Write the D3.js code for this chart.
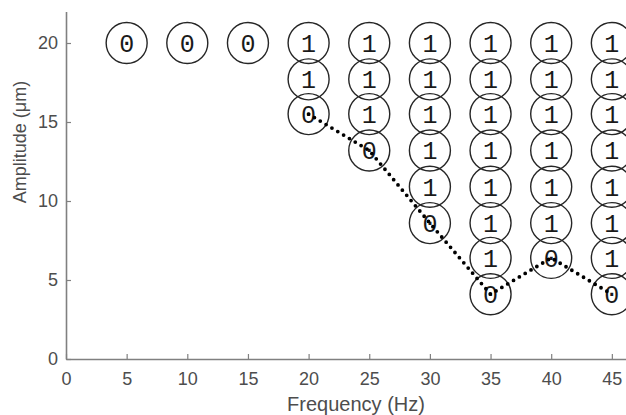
<!DOCTYPE html>
<html>
<head>
<meta charset="utf-8">
<script src="https://cdn.jsdelivr.net/npm/d3@7"></script>
<style>
  body { margin: 0; background: #fff; }
  svg { display: block; }
</style>
</head>
<body>
<div id="chart"></div>
<script>
// Test frequencies (Hz) and amplitude levels (um)
const frequencies = [5, 10, 15, 20, 25, 30, 35, 40, 45];
const amplitudeLevels = [20, 17.7, 15.5, 13.2, 10.9, 8.6, 6.4, 4.1];

// Outcome per frequency, top to bottom along amplitudeLevels (1 = response, 0 = none)
const outcomes = [
  [0],
  [0],
  [0],
  [1, 1, 0],
  [1, 1, 1, 0],
  [1, 1, 1, 1, 1, 0],
  [1, 1, 1, 1, 1, 1, 1, 0],
  [1, 1, 1, 1, 1, 1, 0],
  [1, 1, 1, 1, 1, 1, 1, 0]
];

// Threshold path (dotted)
const thresholdFreq = [20, 25, 30, 35, 40, 45];
const thresholdAmp = [15.5, 13.2, 8.6, 4.1, 6.4, 4.1];

const xTicks = [0, 5, 10, 15, 20, 25, 30, 35, 40, 45];
const yTicks = [0, 5, 10, 15, 20];

const width = 626, height = 415;

const svg = d3.select('#chart')
  .append('svg')
  .attr('width', width)
  .attr('height', height);

const x = d3.scaleLinear().domain([0, 50]).range([66, 672.5]);
const y = d3.scaleLinear().domain([0, 22]).range([359, 11.4]);

// Axes (MATLAB style, ticks pointing inward)
const axisColor = '#808080';
const labelColor = '#4d4d4d';
const sans = 'Liberation Sans, Arial, sans-serif';

const xAxis = svg.append('g')
  .attr('transform', `translate(0,${y(0)})`)
  .call(d3.axisBottom(x).tickValues(xTicks).tickSize(-5).tickPadding(13).tickSizeOuter(0));

const yAxis = svg.append('g')
  .attr('transform', `translate(${x(0)},0)`)
  .call(d3.axisLeft(y).tickValues(yTicks).tickSize(-5).tickPadding(8).tickSizeOuter(0));

[xAxis, yAxis].forEach(g => {
  g.select('.domain').attr('stroke', axisColor).attr('stroke-width', 1.6);
  g.selectAll('.tick line').attr('stroke', axisColor).attr('stroke-width', 1.2);
  g.selectAll('.tick text')
    .attr('fill', labelColor)
    .attr('font-family', sans)
    .attr('font-size', '18px');
});

// Axis labels
svg.append('text')
  .attr('x', 356)
  .attr('y', 411)
  .attr('text-anchor', 'middle')
  .attr('fill', labelColor)
  .attr('font-family', sans)
  .attr('font-size', '20px')
  .text('Frequency (Hz)');

svg.append('text')
  .attr('transform', 'rotate(-90)')
  .attr('x', -142)
  .attr('y', 26)
  .attr('text-anchor', 'middle')
  .attr('fill', labelColor)
  .attr('font-family', sans)
  .attr('font-size', '18px')
  .text('Amplitude (\u03bcm)');

// Circles with outcome digits
const cells = [];
frequencies.forEach((f, i) => {
  outcomes[i].forEach((v, j) => {
    cells.push({ f: f, a: amplitudeLevels[j], v: v });
  });
});

const r = 20.5;
const cellG = svg.append('g');

cellG.selectAll('circle')
  .data(cells)
  .join('circle')
  .attr('cx', d => x(d.f))
  .attr('cy', d => y(d.a))
  .attr('r', r)
  .attr('fill', 'none')
  .attr('stroke', '#262626')
  .attr('stroke-width', 1.4);

cellG.selectAll('text')
  .data(cells)
  .join('text')
  .attr('x', d => x(d.f))
  .attr('y', d => y(d.a))
  .attr('dy', '0.36em')
  .attr('text-anchor', 'middle')
  .attr('fill', '#1a1a1a')
  .attr('font-family', 'Liberation Mono, DejaVu Sans Mono, monospace')
  .attr('font-size', '25px')
  .text(d => d.v);

// Dotted threshold line
const thresholdPts = thresholdFreq.map((f, i) => [f, thresholdAmp[i]]);
svg.append('path')
  .datum(thresholdPts)
  .attr('fill', 'none')
  .attr('stroke', '#000')
  .attr('stroke-width', 3.8)
  .attr('stroke-linecap', 'round')
  .attr('stroke-dasharray', '0,6.8')
  .attr('d', d3.line().x(d => x(d[0])).y(d => y(d[1])));
</script>
</body>
</html>
